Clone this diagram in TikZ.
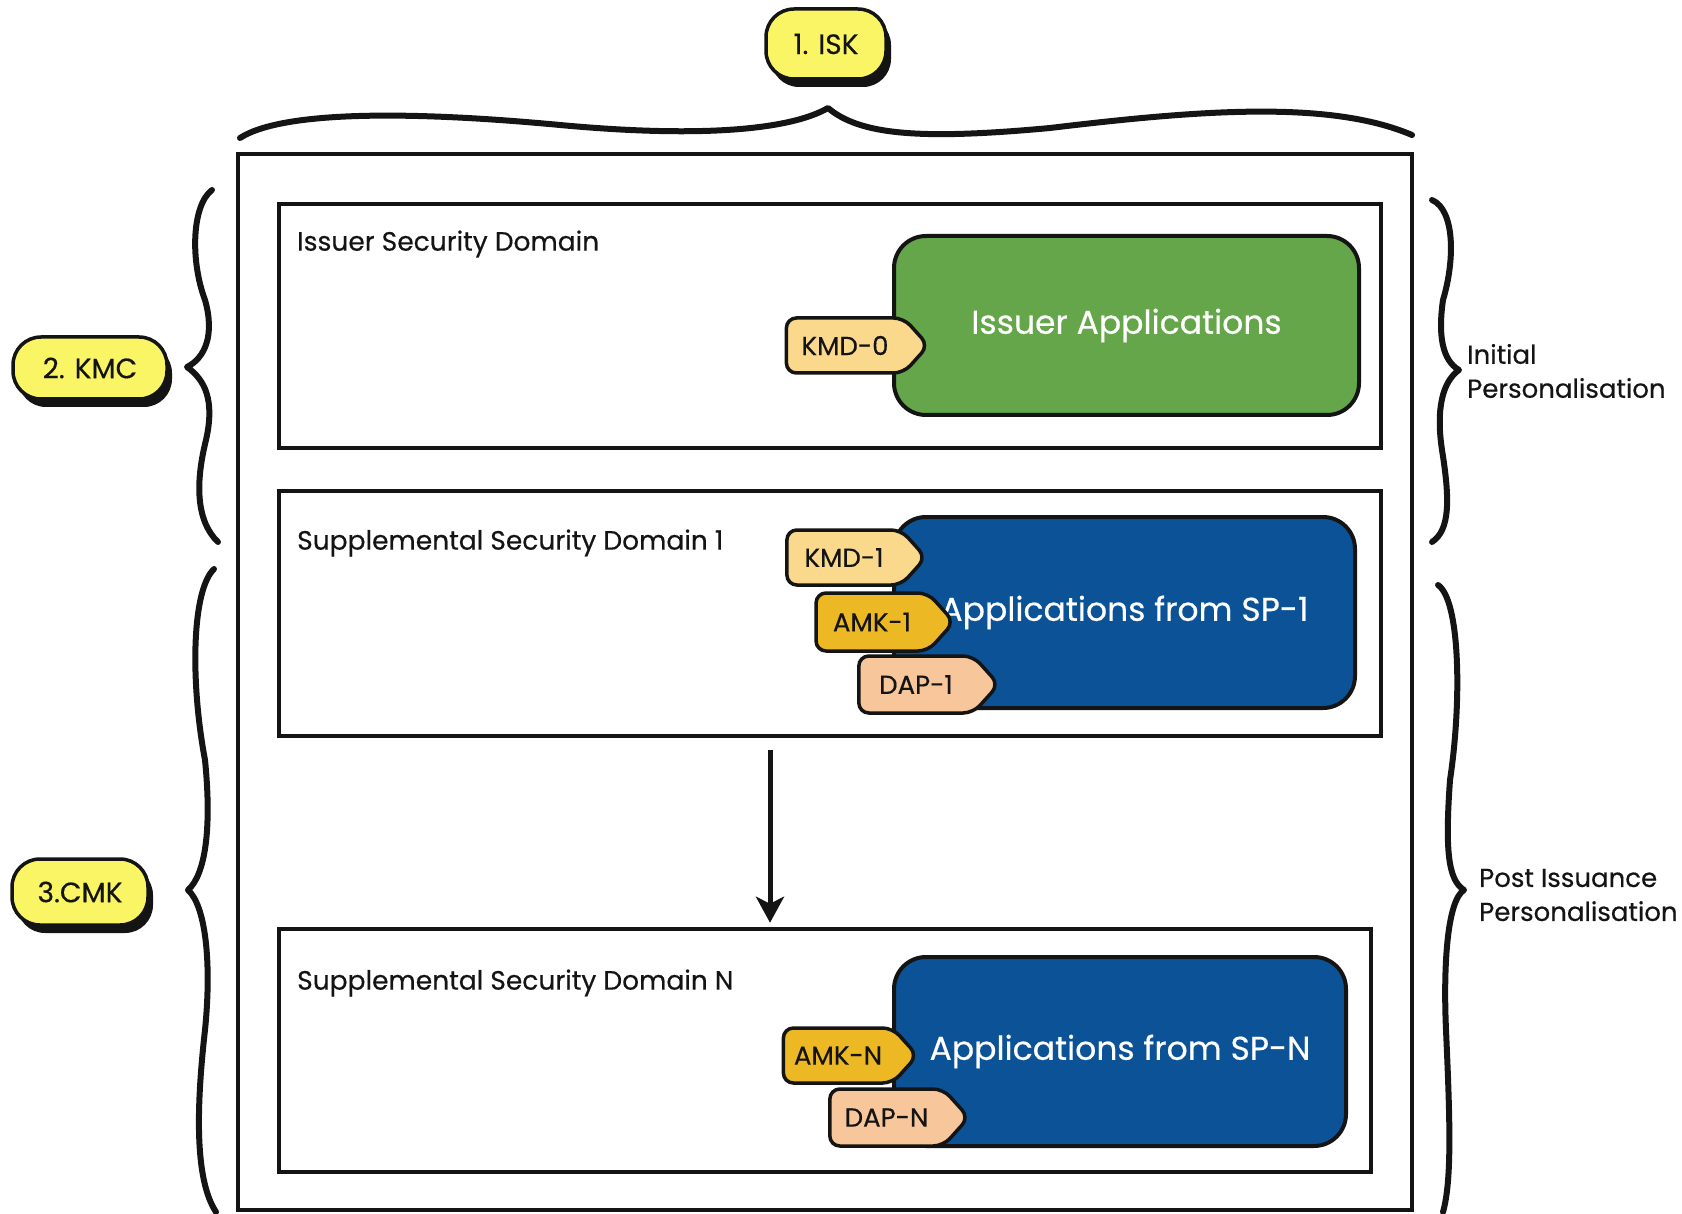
\documentclass[tikz,border=0pt]{standalone}
\usepackage{fontspec}
\setmainfont{Poppins}[FakeBold=0.4]
\usetikzlibrary{shapes.symbols,shadows,arrows.meta}
\definecolor{badgeyellow}{RGB}{250,245,100}
\definecolor{appgreen}{RGB}{100,166,73}
\definecolor{appblue}{RGB}{11,83,150}
\definecolor{kmdcol}{RGB}{251,217,140}
\definecolor{amkcol}{RGB}{236,185,36}
\definecolor{dapcol}{RGB}{247,198,154}
\definecolor{inkcol}{RGB}{20,20,20}
\newcommand\ttlfnt{\fontsize{26.5pt}{30pt}\selectfont}
\newcommand\appfnt{\fontsize{33pt}{38pt}\selectfont}
\newcommand\tagfnt{\fontsize{26pt}{30pt}\selectfont}
\newcommand\badgefnt{\fontsize{28pt}{32pt}\selectfont}
\newcommand\sidefnt{\fontsize{26pt}{34pt}\selectfont}
\tikzset{
  domainbox/.style={draw=inkcol, line width=4.5pt, inner sep=0pt},
  appbox/.style={draw=inkcol, line width=4pt, rounded corners=32pt, text=white, font=\appfnt, inner sep=0pt},
  tagbox/.style={shape=signal, signal to=east, signal pointer angle=96, draw=inkcol, line width=3.5pt, rounded corners=10pt, minimum height=55pt, font=\tagfnt, text=inkcol, inner sep=0pt},
  badge/.style={draw=inkcol, line width=3.5pt, fill=badgeyellow, rounded corners=28pt, font=\badgefnt, text=inkcol, inner sep=0pt,
    drop shadow={shadow xshift=5pt, shadow yshift=-8pt, opacity=1, fill=inkcol}},
  bracepath/.style={draw=inkcol, line width=6pt, line cap=round, line join=round},
  ttl/.style={anchor=west, font=\ttlfnt, text=inkcol, inner sep=0pt},
  sidelabel/.style={anchor=west, font=\sidefnt, text=inkcol, align=left, inner sep=0pt},
  flowarrow/.style={draw=inkcol, line width=5pt, -{Stealth[length=26pt,width=28pt,inset=7pt]}}
}
\begin{document}
\begin{tikzpicture}[x=1pt,y=-1pt]
\useasboundingbox (0,0) rectangle (1682,1214);
% outer frame
\node[domainbox, minimum width=1174pt, minimum height=1056pt] (frame) at (825,682) {};
% domain boxes
\node[domainbox, minimum width=1102pt, minimum height=244pt] (isd) at (830,326) {};
\node[domainbox, minimum width=1102pt, minimum height=245pt] (ssd1) at (830,613.5) {};
\node[domainbox, minimum width=1092pt, minimum height=243pt] (ssdn) at (825,1050.5) {};
\node[ttl] (isdt) at (297,244) {Issuer Security Domain};
\node[ttl] (ssd1t) at (297,543) {Supplemental Security Domain 1};
\node[ttl] (ssdnt) at (297,983) {Supplemental Security Domain N};
% application boxes
\node[appbox, fill=appgreen, minimum width=465pt, minimum height=179pt] (issapp) at (1126.5,325.5) {Issuer Applications};
\node[appbox, fill=appblue, minimum width=461pt, minimum height=191pt] (sp1app) at (1124.5,612.5) {Applications from SP-1};
\node[appbox, fill=appblue, minimum width=452pt, minimum height=189pt] (spnapp) at (1120,1051.5) {Applications from SP-N};
% key tags
\node[tagbox, fill=kmdcol, minimum width=142pt] (kmd0) at (845,345.5) {KMD-0};
\node[tagbox, fill=kmdcol, minimum width=139pt] (kmd1) at (844,557.5) {KMD-1};
\node[tagbox, fill=amkcol, minimum width=138pt, minimum height=58pt] (amk1) at (872,622) {AMK-1};
\node[tagbox, fill=dapcol, minimum width=140pt, minimum height=57pt] (dap1) at (916,684.5) {DAP-1};
\node[tagbox, fill=amkcol, minimum width=134pt] (amkn) at (838,1055.5) {AMK-N};
\node[tagbox, fill=dapcol, minimum width=139pt, minimum height=57pt] (dapn) at (886.5,1117.5) {DAP-N};
% arrow
\coordinate (ax) at (770,0);
\draw[flowarrow, shorten <=12pt, shorten >=4pt] (ssd1.south -| ax) -- (ssdn.north -| ax);
% braces
\draw[bracepath] (240,138) .. controls (280,112) and (400,110) .. (560,125)
  .. controls (700,138) and (790,130) .. (828,108)
  .. controls (860,135) and (920,140) .. (1050,128)
  .. controls (1200,110) and (1330,100) .. (1412,135);
\draw[bracepath] (212,190) .. controls (192,205) and (190,260) .. (205,300)
  .. controls (215,335) and (205,358) .. (187,367)
  .. controls (205,380) and (215,400) .. (206,440)
  .. controls (196,480) and (195,520) .. (218,542);
\draw[bracepath] (214,569) .. controls (192,590) and (190,680) .. (205,760)
  .. controls (212,830) and (205,875) .. (188,890)
  .. controls (205,905) and (212,960) .. (205,1030)
  .. controls (196,1110) and (195,1180) .. (216,1212);
\draw[bracepath] (1432,200) .. controls (1455,210) and (1455,260) .. (1443,300)
  .. controls (1438,335) and (1442,360) .. (1459,370)
  .. controls (1442,382) and (1436,410) .. (1442,450)
  .. controls (1450,500) and (1450,530) .. (1432,542);
\draw[bracepath] (1438,585) .. controls (1460,600) and (1462,700) .. (1450,780)
  .. controls (1445,850) and (1448,880) .. (1464,890)
  .. controls (1448,900) and (1443,960) .. (1446,1030)
  .. controls (1450,1120) and (1452,1180) .. (1443,1212);
% badges
\node[badge, minimum width=120pt, minimum height=70pt] (isk) at (826,44) {1. ISK};
\node[badge, minimum width=154pt, minimum height=62pt] (kmc) at (90,368) {2. KMC};
\node[badge, minimum width=136pt, minimum height=66pt] (cmk) at (80,892) {3.CMK};
% side labels
\node[sidelabel] (initl) at (1467,371) {Initial\\Personalisation};
\node[sidelabel] (postl) at (1479,895) {Post Issuance\\Personalisation};
\end{tikzpicture}
\end{document}
